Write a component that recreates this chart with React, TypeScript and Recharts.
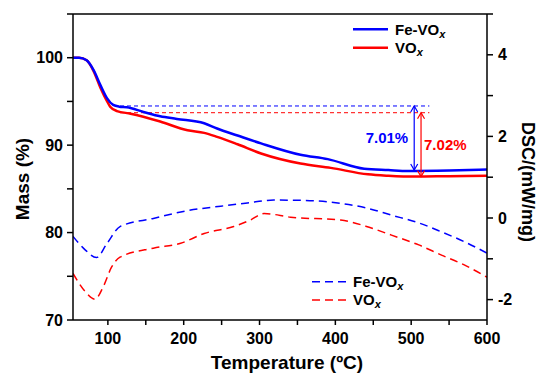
import React from 'react';
import { LineChart, Line, XAxis, YAxis, ReferenceLine, Label } from 'recharts';

// ---- Data ----
const feMassT = [54, 62, 72, 81, 90, 99, 107, 115, 125, 147, 169, 191, 227, 244, 271, 302, 354, 390, 438, 470, 496, 550, 600];
const feMass = [100, 100, 99.7, 98.6, 96.9, 95.35, 94.6, 94.4, 94.33, 93.8, 93.3, 93.0, 92.5, 91.9, 91.1, 90.2, 88.9, 88.4, 87.3, 87.15, 87.05, 87.1, 87.2];

const voMassT = [54, 62, 72, 81, 90, 99, 103, 112, 130, 169, 205, 227, 244, 271, 302, 354, 394, 443, 470, 505, 550, 600];
const voMass = [100, 100, 99.7, 98.5, 96.6, 95.0, 94.4, 93.9, 93.6, 92.7, 91.7, 91.4, 90.95, 90.1, 89.05, 87.9, 87.4, 86.66, 86.5, 86.4, 86.45, 86.5];

const feDscT = [54, 70, 85, 99, 116, 160, 205, 249, 284, 319, 360, 407, 440, 474, 510, 540, 570, 600];
const feDsc = [-0.45, -0.78, -0.97, -0.62, -0.21, -0.01, 0.18, 0.29, 0.37, 0.44, 0.43, 0.36, 0.25, 0.07, -0.12, -0.34, -0.58, -0.86];

const voDscT = [54, 70, 83, 94, 105, 116, 160, 196, 227, 266, 288, 306, 341, 407, 440, 474, 510, 540, 570, 600];
const voDsc = [-1.36, -1.8, -1.99, -1.68, -1.2, -0.96, -0.74, -0.62, -0.38, -0.21, -0.05, 0.11, 0.02, -0.05, -0.2, -0.42, -0.66, -0.91, -1.15, -1.45];

const xTicks = [100, 150, 200, 250, 300, 350, 400, 450, 500, 550, 600];
const xMajor = [100, 200, 300, 400, 500, 600];
const leftTicks = [70, 75, 80, 85, 90, 95, 100, 105];
const leftMajor = [70, 80, 90, 100];
const rightTicks = [-2, -1, 0, 1, 2, 3, 4, 5];
const rightMajor = [-2, 0, 2, 4];

// annotation values
const feLevel = 94.48;
const voLevel = 93.71;
const levelStartT = 116;
const levelEndT = 524;
const feArrowT = 504;
const voArrowT = 513;
const feArrowEnd = 87.15;
const voArrowEnd = 86.4;
const feLossLabel = '7.01%';
const voLossLabel = '7.02%';

const BLUE = '#0000ff';
const RED = '#ff0000';
const FONT = '"Liberation Sans", Arial, Helvetica, sans-serif';

const zip = (t: number[], v: number[]) => t.map((x, i) => ({ t: x, v: v[i] }));
const feMassData = zip(feMassT, feMass);
const voMassData = zip(voMassT, voMass);
const feDscData = zip(feDscT, feDsc);
const voDscData = zip(voDscT, voDsc);

const XTick = (props: any) => {
  const { x, y, payload } = props;
  if (!xMajor.includes(payload.value)) return <g />;
  return (
    <text x={x} y={y} dy="0.71em" textAnchor="middle" fontFamily={FONT} fontWeight="bold" fontSize={16} fill="#000">
      {payload.value}
    </text>
  );
};
const LeftTick = (props: any) => {
  const { x, y, payload } = props;
  if (!leftMajor.includes(payload.value)) return <g />;
  return (
    <text x={x} y={y} dy="0.355em" textAnchor="end" fontFamily={FONT} fontWeight="bold" fontSize={16} fill="#000">
      {payload.value}
    </text>
  );
};
const RightTick = (props: any) => {
  const { x, y, payload } = props;
  if (!rightMajor.includes(payload.value)) return <g />;
  return (
    <text x={x} y={y} dy="0.355em" textAnchor="start" fontFamily={FONT} fontWeight="bold" fontSize={16} fill="#000">
      {String(payload.value)}
    </text>
  );
};

const ArrowShape = (props: any) => {
  const { x1, y1, x2, y2, stroke } = props;
  const w = 3.5;
  const h = 6;
  const top = Math.min(y1, y2);
  const bot = Math.max(y1, y2);
  return (
    <g>
      <line x1={x1} y1={top} x2={x2} y2={bot} stroke={stroke} strokeWidth={1.2} />
      <polyline points={`${x1 - w},${top + h} ${x1},${top} ${x1 + w},${top + h}`} fill="none" stroke={stroke} strokeWidth={1.2} />
      <polyline points={`${x2 - w},${bot - h} ${x2},${bot} ${x2 + w},${bot - h}`} fill="none" stroke={stroke} strokeWidth={1.2} />
    </g>
  );
};

const titleStyle = { fontFamily: FONT, fontWeight: 'bold' as const, fontSize: 19, fill: '#000' };

export default function App() {
  return (
    <div style={{ position: 'absolute', left: 0, top: 0, width: 538, height: 374, background: '#fff' }}>
      <LineChart width={538} height={374} margin={{ top: 14, right: 0, bottom: 0, left: 0 }}>
        <XAxis
          type="number"
          dataKey="t"
          domain={[54, 600]}
          ticks={xTicks}
          allowDataOverflow
          height={54}
          tick={<XTick />}
          tickSize={5}
          tickMargin={8}
          axisLine={{ stroke: '#000', strokeWidth: 1.5 }}
          tickLine={{ stroke: '#000', strokeWidth: 1.5 }}
        >
          <Label
            content={(p: any) => {
              const vb = p.viewBox;
              return (
                <text x={vb.x + vb.width / 2 + 7} y={vb.y + 49} textAnchor="middle" {...titleStyle}>
                  Temperature (ºC)
                </text>
              );
            }}
          />
        </XAxis>
        <YAxis
          yAxisId="left"
          type="number"
          domain={[70, 105]}
          ticks={leftTicks}
          allowDataOverflow
          width={73}
          tick={<LeftTick />}
          tickSize={6}
          tickMargin={4}
          axisLine={{ stroke: '#000', strokeWidth: 1.5 }}
          tickLine={{ stroke: '#000', strokeWidth: 1.5 }}
        >
          <Label
            content={(p: any) => {
              const vb = p.viewBox;
              const cx = vb.x + 22;
              const cy = vb.y + vb.height / 2 + 12;
              return (
                <text x={cx} y={cy} textAnchor="middle" dominantBaseline="central" transform={`rotate(-90 ${cx} ${cy})`} {...titleStyle}>
                  Mass (%)
                </text>
              );
            }}
          />
        </YAxis>
        <YAxis
          yAxisId="right"
          orientation="right"
          type="number"
          domain={[-2.5, 5]}
          ticks={rightTicks}
          allowDataOverflow
          width={51}
          tick={<RightTick />}
          tickSize={6}
          tickMargin={5}
          axisLine={{ stroke: '#000', strokeWidth: 1.5 }}
          tickLine={{ stroke: '#000', strokeWidth: 1.5 }}
        >
          <Label
            content={(p: any) => {
              const vb = p.viewBox;
              const cx = vb.x + 41;
              const cy = vb.y + vb.height / 2 + 15;
              return (
                <text x={cx} y={cy} textAnchor="middle" dominantBaseline="central" transform={`rotate(90 ${cx} ${cy})`} {...titleStyle} fontSize={18}>
                  DSC/(mW/mg)
                </text>
              );
            }}
          />
        </YAxis>

        <ReferenceLine yAxisId="left" y={105} stroke="#000" strokeWidth={1.5} />

        <ReferenceLine
          yAxisId="left"
          segment={[{ x: levelStartT, y: feLevel }, { x: levelEndT, y: feLevel }]}
          stroke={BLUE}
          strokeWidth={1}
          strokeDasharray="4 3"
        />
        <ReferenceLine
          yAxisId="left"
          segment={[{ x: levelStartT, y: voLevel }, { x: levelEndT, y: voLevel }]}
          stroke={RED}
          strokeWidth={1}
          strokeDasharray="4 3"
        />

        <Line yAxisId="right" data={voDscData} dataKey="v" type="monotone" stroke={RED} strokeWidth={1.5} strokeDasharray="8 5" dot={false} isAnimationActive={false} />
        <Line yAxisId="right" data={feDscData} dataKey="v" type="monotone" stroke={BLUE} strokeWidth={1.5} strokeDasharray="8 5" dot={false} isAnimationActive={false} />
        <Line yAxisId="left" data={voMassData} dataKey="v" type="monotone" stroke={RED} strokeWidth={2.5} dot={false} isAnimationActive={false} />
        <Line yAxisId="left" data={feMassData} dataKey="v" type="monotone" stroke={BLUE} strokeWidth={2.5} dot={false} isAnimationActive={false} />

        <ReferenceLine
          yAxisId="left"
          segment={[{ x: feArrowT, y: feLevel }, { x: feArrowT, y: feArrowEnd }]}
          stroke={BLUE}
          shape={(p: any) => <ArrowShape {...p} stroke={BLUE} />}
          label={{ value: feLossLabel, position: 'left', offset: 6, fill: BLUE, fontSize: 15, fontWeight: 'bold', fontFamily: FONT }}
        />
        <ReferenceLine
          yAxisId="left"
          segment={[{ x: voArrowT, y: voLevel }, { x: voArrowT, y: voArrowEnd }]}
          stroke={RED}
          shape={(p: any) => <ArrowShape {...p} stroke={RED} />}
          label={{ value: voLossLabel, position: 'right', offset: 3, fill: RED, fontSize: 15, fontWeight: 'bold', fontFamily: FONT }}
        />
      </LineChart>

      <svg width={538} height={374} style={{ position: 'absolute', left: 0, top: 0, pointerEvents: 'none' }}>
        <g fontFamily={FONT} fontWeight="bold" fontSize={15} fill="#000">
          <line x1={353} x2={388} y1={29.3} y2={29.3} stroke={BLUE} strokeWidth={2.5} />
          <text x={395} y={34.5}>
            Fe-VO<tspan fontStyle="italic" fontSize={11} dy={3}>x</tspan>
          </text>
          <line x1={353} x2={388} y1={47.7} y2={47.7} stroke={RED} strokeWidth={2.5} />
          <text x={395} y={53}>
            VO<tspan fontStyle="italic" fontSize={11} dy={3}>x</tspan>
          </text>
          <line x1={312} x2={347} y1={281.7} y2={281.7} stroke={BLUE} strokeWidth={1.5} strokeDasharray="8 5" />
          <text x={353} y={287}>
            Fe-VO<tspan fontStyle="italic" fontSize={11} dy={3}>x</tspan>
          </text>
          <line x1={312} x2={347} y1={300} y2={300} stroke={RED} strokeWidth={1.5} strokeDasharray="8 5" />
          <text x={353} y={305.3}>
            VO<tspan fontStyle="italic" fontSize={11} dy={3}>x</tspan>
          </text>
        </g>
      </svg>
    </div>
  );
}
